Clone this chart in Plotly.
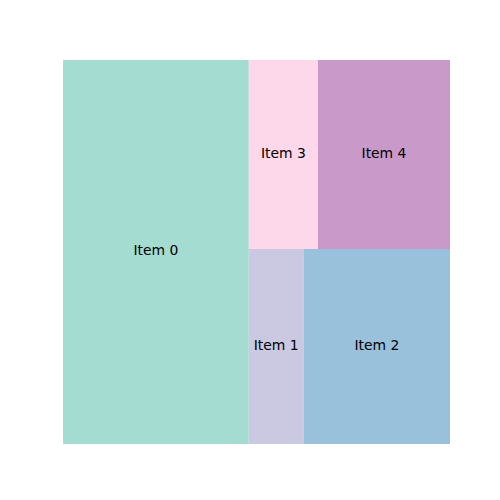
import plotly.graph_objects as go

labels = ["Item 0", "Item 1", "Item 2", "Item 3", "Item 4"]
values = [60, 9, 24, 11, 21]
colors = ["#8dd3c7", "#bebada", "#80b1d3", "#fccde5", "#bc80bd"]


def normalize_sizes(sizes, dx, dy):
    total = sum(sizes)
    return [s * dx * dy / total for s in sizes]


def layoutrow(sizes, x, y, dx, dy):
    covered = sum(sizes)
    width = covered / dy
    rects = []
    for s in sizes:
        rects.append((x, y, width, s / width))
        y += s / width
    return rects


def layoutcol(sizes, x, y, dx, dy):
    covered = sum(sizes)
    height = covered / dx
    rects = []
    for s in sizes:
        rects.append((x, y, s / height, height))
        x += s / height
    return rects


def layout(sizes, x, y, dx, dy):
    return layoutrow(sizes, x, y, dx, dy) if dx >= dy else layoutcol(sizes, x, y, dx, dy)


def leftover(sizes, x, y, dx, dy):
    covered = sum(sizes)
    if dx >= dy:
        width = covered / dy
        return (x + width, y, dx - width, dy)
    height = covered / dx
    return (x, y + height, dx, dy - height)


def worst_ratio(sizes, x, y, dx, dy):
    return max(max(r[2] / r[3], r[3] / r[2]) for r in layout(sizes, x, y, dx, dy))


def squarify(sizes, x, y, dx, dy):
    if not sizes:
        return []
    if len(sizes) == 1:
        return layout(sizes, x, y, dx, dy)
    i = 1
    while i < len(sizes) and worst_ratio(sizes[:i], x, y, dx, dy) >= worst_ratio(sizes[:i + 1], x, y, dx, dy):
        i += 1
    current = sizes[:i]
    remaining = sizes[i:]
    lx, ly, ldx, ldy = leftover(current, x, y, dx, dy)
    return layout(current, x, y, dx, dy) + squarify(remaining, lx, ly, ldx, ldy)


W, H = 100, 100
rects = squarify(normalize_sizes(values, W, H), 0, 0, W, H)

fig = go.Figure()
for (x, y, w, h), lab, col in zip(rects, labels, colors):
    fig.add_trace(go.Scatter(
        x=[x, x + w, x + w, x, x], y=[y, y, y + h, y + h, y],
        mode="lines", fill="toself", fillcolor=col, opacity=0.8,
        line=dict(width=0), hoverinfo="skip", showlegend=False))
for (x, y, w, h), lab in zip(rects, labels):
    fig.add_trace(go.Scatter(
        x=[x + w / 2], y=[y + h / 2], mode="text", text=[lab],
        textfont=dict(family="DejaVu Sans", size=13.9, color="black"),
        textposition="middle center", showlegend=False, hoverinfo="skip"))

fig.update_layout(
    width=500, height=500,
    margin=dict(l=55, r=58, t=52, b=64, pad=0),
    paper_bgcolor="white", plot_bgcolor="white",
    xaxis=dict(range=[0, W], visible=False, showgrid=False, zeroline=False, fixedrange=True),
    yaxis=dict(range=[0, H], visible=False, showgrid=False, zeroline=False, fixedrange=True),
    showlegend=False,
)
fig.write_html("out.html")
